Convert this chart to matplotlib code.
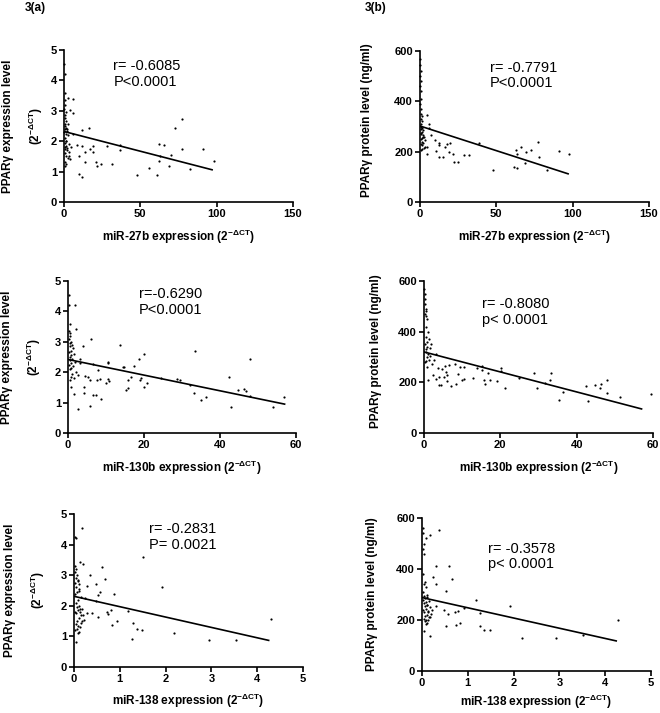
import matplotlib
matplotlib.use("Agg")
import matplotlib.pyplot as plt

plt.rcParams['font.family'] = ['Liberation Sans', 'DejaVu Sans']
plt.rcParams['mathtext.fontset'] = 'custom'
plt.rcParams['mathtext.rm'] = 'Liberation Sans:bold'
plt.rcParams['mathtext.default'] = 'regular'

# ---- data ----
# 3(a) top: miR-27b vs PPARg expression
a1_x = [0.3, 0.5, 0.4, 0.8, 0.6, 0.3, 1.0, 0.5, 0.7, 1.2, 0.4, 0.9, 1.5, 0.6, 2.0, 0.3, 1.1, 2.5, 0.8, 1.6,
        0.5, 3.0, 1.3, 0.4, 2.2, 0.7, 1.8, 3.5, 0.6, 1.0, 2.8, 4.0, 0.9, 1.4, 3.2, 2.4, 4.5, 1.9, 0.5, 1.2,
        98, 91, 82.7, 77.4, 77, 72.6, 70, 68.7, 65.6, 62.5, 63, 62.5, 60.8, 55.8, 47.7, 37, 36.7, 31.5, 28.4,
        24, 21.9, 21, 18.8, 19.2, 17, 16.6, 14, 14, 11.8, 11.8, 11.8, 9.6, 9.6, 8.7, 6.1, 5.7, 5.7, 3.9, 2.6]
a1_y = [4.55, 4.2, 3.6, 3.35, 3.2, 3.05, 2.95, 2.85, 2.75, 2.65, 2.55, 2.5, 2.45, 2.4, 2.35, 2.3, 2.25, 2.2,
        2.1, 2.0, 1.95, 1.9, 1.85, 1.8, 1.78, 1.75, 1.7, 1.65, 1.6, 1.5, 1.45, 1.4, 1.3, 1.25, 1.5, 2.55, 1.8,
        2.4, 1.2, 2.0,
        1.36, 1.75, 1.09, 1.75, 2.72, 2.43, 1.56, 1.18, 1.88, 1.90, 1.50, 1.35, 0.88, 1.12, 0.88, 1.86, 1.70,
        1.26, 1.83, 1.24, 1.20, 1.31, 1.63, 1.83, 1.74, 2.45, 1.63, 1.31, 2.37, 1.83, 0.82, 0.92, 1.50, 1.86,
        2.24, 2.92, 3.38, 3.03, 3.42]
a1_fit_x = [0, 97]
a1_fit_y = [2.32, 1.06]

# 3(b) top: miR-27b vs PPARg protein
b1_x = [0.2, 0.3, 0.4, 0.2, 0.5, 0.3, 0.6, 0.4, 0.3, 0.8, 0.5, 1.0, 0.4, 1.2, 0.6, 0.9, 1.5, 0.7, 2.0, 1.1,
        0.5, 1.8, 2.5, 1.3, 0.8, 3.0, 1.6, 2.2, 0.6, 1.0, 3.5, 2.8, 1.4, 0.4, 2.0, 0.9,
        97.8, 91.3, 83.4, 78.2, 77.5, 73, 69.4, 69, 66.4, 63.3, 62.9, 61.6, 63.3, 47.6, 38.4, 31.9, 28.8,
        24.9, 22.3, 21.8, 18.8, 19.7, 17.9, 16.2, 14.8, 12.7, 12.7, 12.2, 10.5, 10, 7.4, 6.1, 5.7, 4.8,
        4.8, 4.4]
b1_y = [570, 545, 520, 500, 480, 460, 440, 410, 390, 370, 350, 340, 330, 320, 310, 300, 295, 290, 285, 280,
        270, 265, 260, 255, 250, 245, 240, 235, 230, 225, 220, 215, 210, 205, 260, 275,
        191, 202, 128, 178, 237, 206, 200, 154, 220, 191, 208, 140, 137, 128, 236, 186, 187, 160, 160, 191,
        200, 236, 231, 218, 178, 178, 226, 233, 204, 247, 265, 293, 310, 344, 191, 218]
b1_fit_x = [0, 97]
b1_fit_y = [302, 112]

# 3(a) middle: miR-130b vs PPARg expression
a2_x = [0.2, 0.3, 0.4, 0.2, 0.5, 0.6, 0.3, 0.8, 0.4, 1.0, 0.5, 1.2, 0.7, 0.3, 1.5, 0.9, 0.4, 1.1, 0.6, 1.8,
        0.8, 0.3, 1.4, 0.5, 2.0, 1.0, 0.7, 1.6, 0.4, 0.9,
        56.9, 53.9, 47.9, 47.9, 46.8, 46.3, 44.7, 42.3, 42.9, 36.3, 35, 33.5, 33.2, 32, 29.5, 28.8, 24.6,
        20.9, 20.1, 19.9, 19.2, 19, 18.6, 17.4, 16.6, 15.7, 15.7, 15.2, 14.8, 14.4, 13.6, 10.9, 10.4, 10.4,
        10.4, 9.9, 8.8, 8.5, 7.8, 7.6, 7.4, 6.7, 6.6, 6.0, 5.7, 5.3, 5.7, 4.6, 4.3, 4.1, 3.9, 3.1, 3.2,
        2.7, 2.7, 2.2, 1.9, 1.7, 0.8]
a2_y = [4.55, 4.2, 3.6, 3.35, 3.3, 3.2, 3.1, 3.0, 2.95, 2.9, 2.85, 2.8, 2.7, 2.65, 2.6, 2.55, 2.5, 2.45, 2.4,
        2.35, 2.3, 2.25, 2.2, 2.1, 2.0, 1.95, 1.85, 1.8, 1.75, 2.15,
        1.18, 0.86, 1.21, 2.42, 1.39, 1.45, 1.42, 1.83, 0.85, 1.20, 1.10, 2.71, 1.32, 1.58, 1.75, 1.77, 1.82,
        1.63, 1.50, 2.61, 1.81, 1.73, 2.45, 2.19, 1.85, 1.73, 1.48, 1.41, 2.18, 2.16, 2.89, 1.70, 2.35, 2.30,
        1.79, 1.65, 1.12, 1.76, 2.08, 1.73, 1.24, 1.26, 2.26, 3.09, 1.73, 1.84, 0.88, 1.89, 1.31, 1.50, 2.87,
        2.31, 2.45, 1.90, 0.79, 3.41, 4.20, 1.27, 1.51]
a2_fit_x = [0, 57]
a2_fit_y = [2.42, 0.95]

# 3(b) middle: miR-130b vs PPARg protein
b2_x = [0.1, 0.2, 0.3, 0.2, 0.4, 0.5, 0.3, 0.6, 0.8, 0.4, 1.0, 0.5, 1.2, 0.7, 0.3, 0.9, 1.5, 0.6, 0.4, 1.1,
        0.8, 1.3, 0.5, 0.2, 0.7,
        59.5, 51.4, 47.9, 47.9, 46.3, 46.1, 44.8, 42.5, 42.9, 36.3, 35.3, 33.4, 33, 31.7, 29.7, 28.9, 24.8,
        21.1, 20.1, 20.1, 19, 17.4, 16.7, 16, 15.7, 15.3, 15.1, 13.9, 12.9, 10.6, 10.6, 9.9, 9.5, 8.8, 8.5,
        8.1, 7.1, 6.6, 6.0, 6.0, 5.7, 5.5, 5.3, 4.8, 4.5, 3.9, 3.8, 3.6, 3.2, 3.1, 2.7, 2.4, 2.0, 1.9, 1.5,
        1.1]
b2_y = [570, 550, 530, 510, 490, 480, 470, 460, 450, 420, 400, 380, 370, 360, 350, 340, 335, 330, 320, 310,
        300, 290, 285, 280, 260,
        155, 142, 159, 208, 193, 178, 189, 187, 128, 161, 129, 238, 208, 197, 178, 238, 217, 178, 257, 245,
        207, 208, 236, 195, 208, 249, 266, 255, 216, 259, 213, 208, 261, 232, 193, 271, 186, 268, 229, 207,
        241, 266, 221, 253, 191, 191, 221, 258, 312, 213, 288, 228, 271, 351, 304, 209]
b2_fit_x = [0, 57]
b2_fit_y = [320, 95]

# 3(a) bottom: miR-138 vs PPARg expression
a3_x = [0.02, 0.04, 0.03, 0.05, 0.02, 0.06, 0.04, 0.08, 0.03, 0.1, 0.05, 0.12, 0.07, 0.02, 0.15, 0.09, 0.04,
        0.11, 0.06, 0.18, 0.08, 0.03, 0.14, 0.05, 0.2, 0.1, 0.07, 0.16, 0.04, 0.09, 0.13, 0.06, 0.03, 0.12,
        0.17, 0.08, 0.22, 0.05, 0.1, 0.14,
        4.3, 3.53, 2.94, 2.18, 1.92, 1.51, 1.48, 1.38, 1.29, 1.26, 1.18, 0.93, 0.88, 0.82, 0.81, 0.75, 0.71,
        0.61, 0.68, 0.56, 0.53, 0.53, 0.49, 0.47, 0.39, 0.36, 0.28, 0.28, 0.24, 0.2, 0.17, 0.14, 0.15, 0.09]
a3_y = [4.25, 4.2, 3.3, 3.2, 3.1, 3.0, 2.9, 2.8, 2.75, 2.7, 2.6, 2.5, 2.45, 2.4, 2.3, 2.2, 2.1, 2.0, 1.95,
        1.9, 1.85, 1.8, 1.8, 1.75, 1.7, 1.6, 1.5, 1.45, 1.4, 1.35, 1.3, 1.25, 1.2, 1.15, 1.5, 1.1, 1.55, 0.82,
        2.55, 1.9,
        1.57, 0.88, 0.87, 1.12, 2.63, 3.59, 1.21, 1.24, 1.45, 0.90, 1.82, 1.49, 2.40, 1.37, 1.87, 1.74, 1.80,
        3.26, 2.86, 2.46, 2.36, 1.64, 2.16, 2.71, 1.78, 3.00, 2.65, 1.78, 2.27, 3.37, 4.54, 3.43, 1.69, 2.85]
a3_fit_x = [0, 4.25]
a3_fit_y = [2.31, 0.87]

# 3(b) bottom: miR-138 vs PPARg protein
b3_x = [0.02, 0.03, 0.04, 0.02, 0.05, 0.03, 0.06, 0.04, 0.08, 0.03, 0.1, 0.05, 0.12, 0.07, 0.02, 0.15, 0.09,
        0.04, 0.11, 0.06, 0.18, 0.08, 0.03, 0.14, 0.05, 0.2, 0.1, 0.07, 0.16, 0.04, 0.09, 0.13, 0.06, 0.12,
        0.17, 0.08, 0.22, 0.05, 0.1, 0.14,
        4.29, 3.52, 2.93, 2.18, 1.93, 1.48, 1.36, 1.27, 1.26, 1.17, 0.92, 0.84, 0.79, 0.74, 0.72, 0.66, 0.6,
        0.57, 0.53, 0.52, 0.49, 0.37, 0.3, 0.31, 0.3, 0.23, 0.18, 0.17, 0.08]
b3_y = [560, 540, 500, 480, 460, 380, 350, 340, 330, 310, 300, 295, 290, 285, 280, 275, 270, 265, 260, 255,
        250, 245, 240, 235, 230, 225, 220, 215, 210, 205, 200, 200, 195, 190, 210, 185, 240, 155, 260, 230,
        199, 143, 128, 128, 254, 159, 161, 176, 228, 280, 249, 190, 236, 180, 231, 359, 412, 225, 313, 178,
        240, 552, 413, 341, 253, 368, 139, 533, 520]
b3_fit_x = [0, 4.24]
b3_fit_y = [288, 118]

expr_label = 'PPARγ expression level\n(2$^{-\\Delta CT}$)'
prot_label = 'PPARγ protein level (ng/ml)'

panels = [
    # x, y, fit_x, fit_y, rect(px: left, top, right, bottom), xlim, xticks, ylim, yticks, xlabel, ylabel,
    # text, text pos, ylabel pos, xlabel offset
    (a1_x, a1_y, a1_fit_x, a1_fit_y, (64, 50, 293, 202), 150, [0, 50, 100, 150], 5, [0, 1, 2, 3, 4, 5],
     'miR-27b expression (2$^{-\\Delta CT}$)', expr_label, 'r= -0.6085\nP<0.0001', (0.216, 0.94),
     (-0.085, 0.5), -0.17),
    (b1_x, b1_y, b1_fit_x, b1_fit_y, (420, 51, 649, 202), 150, [0, 50, 100, 150], 600, [0, 200, 400, 600],
     'miR-27b expression (2$^{-\\Delta CT}$)', prot_label, 'r= -0.7791\nP<0.0001', (0.306, 0.935),
     (-0.205, 0.54), -0.17),
    (a2_x, a2_y, a2_fit_x, a2_fit_y, (68, 281, 296, 433), 60, [0, 20, 40, 60], 5, [0, 1, 2, 3, 4, 5],
     'miR-130b expression (2$^{-\\Delta CT}$)', expr_label, 'r=-0.6290\nP<0.0001', (0.31, 0.96),
     (-0.11, 0.5), -0.17),
    (b2_x, b2_y, b2_fit_x, b2_fit_y, (424, 281, 653, 433), 60, [0, 20, 40, 60], 600, [0, 200, 400, 600],
     'miR-130b expression (2$^{-\\Delta CT}$)', prot_label, 'r= -0.8080\np< 0.0001', (0.255, 0.895),
     (-0.185, 0.54), -0.17),
    (a3_x, a3_y, a3_fit_x, a3_fit_y, (74, 514, 303, 667), 5, [0, 1, 2, 3, 4, 5], 5, [0, 1, 2, 3, 4, 5],
     'miR-138 expression (2$^{-\\Delta CT}$)', expr_label, 'r= -0.2831\nP= 0.0021', (0.327, 0.945),
     (-0.12, 0.5), -0.165),
    (b3_x, b3_y, b3_fit_x, b3_fit_y, (422, 518, 651, 671), 5, [0, 1, 2, 3, 4, 5], 600, [0, 200, 400, 600],
     'miR-138 expression (2$^{-\\Delta CT}$)', prot_label, 'r= -0.3578\np< 0.0001', (0.288, 0.845),
     (-0.19, 0.5), -0.14),
]

W, H = 660, 713
fig = plt.figure(figsize=(W / 100, H / 100), dpi=100)

for (x, y, fx, fy, rect, xmax, xticks, ymax, yticks, xlabel, ylabel, txt, tpos, ypos, xoff) in panels:
    l, t, r, b = rect
    ax = fig.add_axes([l / W, 1 - b / H, (r - l) / W, (b - t) / H])
    ax.scatter(x, y, s=2.5, color='black', linewidths=0, clip_on=False, zorder=3)
    ax.plot(fx, fy, color='black', lw=1.2)
    ax.set_xlim(0, xmax)
    ax.set_ylim(0, ymax)
    ax.set_xticks(xticks)
    ax.set_yticks(yticks)
    for side in ['top', 'right']:
        ax.spines[side].set_visible(False)
    for side in ['left', 'bottom']:
        ax.spines[side].set_linewidth(1.2)
    ax.tick_params(direction='out', length=3.5, width=1.2, labelsize=8, pad=1.5)
    for lab in ax.get_xticklabels() + ax.get_yticklabels():
        lab.set_fontweight('bold')
    ax.set_xlabel(xlabel, fontsize=8.5, fontweight='bold')
    ax.xaxis.set_label_coords(0.5, xoff)
    ax.set_ylabel(ylabel, fontsize=8.5, fontweight='bold', linespacing=1.9)
    ax.yaxis.set_label_coords(ypos[0], ypos[1])
    ax.text(tpos[0], tpos[1], txt, transform=ax.transAxes, fontsize=10.5, va='top', ha='left',
            linespacing=1.15)

fig.text(25 / W, 1 - 8 / H, '3(a)', fontsize=8.5, fontweight='bold', va='center', ha='left')
fig.text(365 / W, 1 - 8 / H, '3(b)', fontsize=8.5, fontweight='bold', va='center', ha='left')

fig.savefig('out.png', dpi=100)
